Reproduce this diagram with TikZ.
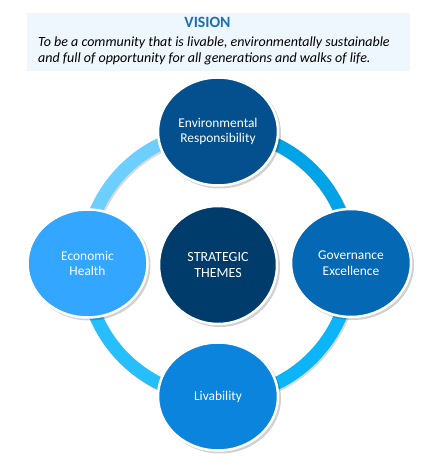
\documentclass[tikz,border=0pt]{standalone}
\usepackage{fontspec}
\setmainfont{Carlito}
\usetikzlibrary{shapes.geometric}
\definecolor{boxbg}{HTML}{EEF6FE}
\definecolor{visionblue}{HTML}{1A6FB8}
\definecolor{ringA}{HTML}{6CCFFF}
\definecolor{ringB}{HTML}{00A3E6}
\definecolor{ringC}{HTML}{0BB5F8}
\definecolor{ringD}{HTML}{27BEFC}
\definecolor{cTop}{HTML}{04508E}
\definecolor{cLeft}{HTML}{33A6FF}
\definecolor{cRight}{HTML}{0568B5}
\definecolor{cBottom}{HTML}{0A84DC}
\definecolor{cCenter}{HTML}{003C6B}
\begin{document}
\begin{tikzpicture}[x=1pt,y=1pt,
  theme/.style={ellipse, minimum width=120pt, minimum height=108pt, inner sep=0pt,
    draw=white, line width=2.5pt, text=white, align=center,
    font=\fontsize{13.4}{15.5}\selectfont},
  core/.style={circle, minimum size=118pt, inner sep=0pt,
    draw=white, line width=2.5pt, fill=cCenter, text=white, align=center,
    font=\fontsize{14}{16.5}\selectfont},
  ringarc/.style={line width=13pt},
  shade/.style={fill=black, opacity=0.18}]
\useasboundingbox (0,0) rectangle (432,468);
% vision box
\fill[boxbg] (27,397) rectangle (410,455);
\node[anchor=base, inner sep=0pt, text=visionblue, font=\fontsize{15.7}{18}\selectfont\bfseries] (vt) at (207.5,440) {VISION};
\node[anchor=base west, inner sep=0pt, font=\fontsize{14}{16}\selectfont\itshape] (v1) at (38,421) {To be a community that is livable, environmentally sustainable};
\node[anchor=base west, inner sep=0pt, font=\fontsize{14}{16}\selectfont\itshape] (v2) at (38,405) {and full of opportunity for all generations and walks of life.};
% ring shadows
\begin{scope}[shift={(1.5,-1.5)}]
\draw[ringarc, black, opacity=0.15] (218,204) ++(90:133) arc[start angle=90, end angle=450, radius=133];
\end{scope}
% ring arcs
\draw[ringarc, ringA] (218,204) ++(90:133) arc[start angle=90, end angle=180, radius=133];
\draw[ringarc, ringB] (218,204) ++(0:133) arc[start angle=0, end angle=90, radius=133];
\draw[ringarc, ringC] (218,204) ++(-90:133) arc[start angle=-90, end angle=0, radius=133];
\draw[ringarc, ringD] (218,204) ++(180:133) arc[start angle=180, end angle=270, radius=133];
% shadows of circles
\fill[shade] (220,334.5) ellipse[x radius=61pt, y radius=55pt];
\fill[shade] (89.5,202.5) ellipse[x radius=61pt, y radius=55pt];
\fill[shade] (353,203) ellipse[x radius=61pt, y radius=55pt];
\fill[shade] (220,69.5) ellipse[x radius=61pt, y radius=55pt];
\fill[shade] (220,201) circle[radius=60pt];
% circles
\node[theme, fill=cTop] (env) at (218,336.5) {Environmental\\Responsibility};
\node[theme, fill=cLeft] (eco) at (87.5,204.5) {Economic\\Health};
\node[theme, fill=cRight] (gov) at (351,205) {Governance\\Excellence};
\node[theme, fill=cBottom] (liv) at (218,71.5) {Livability};
\node[core] (core) at (218,203) {STRATEGIC\\THEMES};
\end{tikzpicture}
\end{document}
